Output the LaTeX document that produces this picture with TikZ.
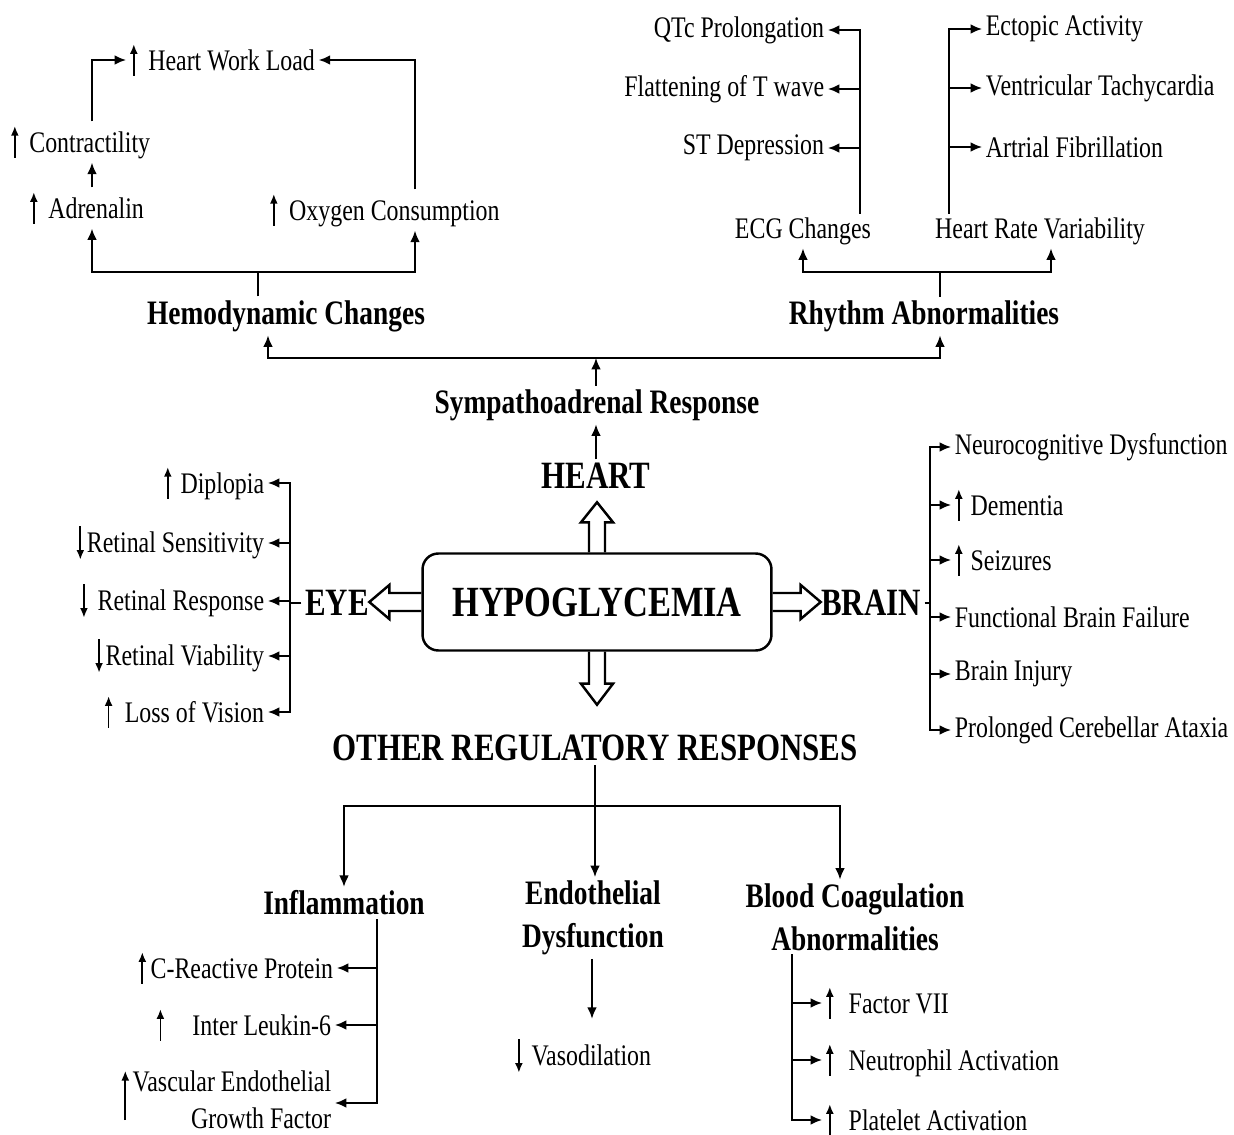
\documentclass[tikz,border=0pt]{standalone}
\usepackage{fontspec}
\setmainfont{Liberation Serif}[FakeStretch=0.8]
\usepackage{tikz}
\usetikzlibrary{arrows.meta}

\newcommand{\incr}{\tikz[baseline=0pt]\draw[line width=1pt, -{Latex[length=5.5pt, width=4.5pt]}] (0,-3pt) -- (0,15pt);}
\newcommand{\decr}{\tikz[baseline=0pt]\draw[line width=1pt, -{Latex[length=5.5pt, width=4.5pt]}] (0,15pt) -- (0,-4pt);}
\newcommand{\incrtall}{\tikz[baseline=0pt]\draw[line width=1pt, -{Latex[length=5.5pt, width=4.5pt]}] (0,-16pt) -- (0,12pt);}

\begin{document}
\begin{tikzpicture}[x=0.02cm, y=-0.02cm, >={Latex[length=6.5pt, width=5.5pt]},
    txt/.style={font=\fontsize{17}{21}\selectfont, inner sep=2pt},
    head/.style={font=\bfseries\fontsize{19.5}{24.5}\selectfont, inner sep=2pt, align=center},
    organ/.style={font=\bfseries\fontsize{22}{26}\selectfont, inner sep=2pt},
    mainbox/.style={draw, line width=1.4pt, rounded corners=9pt, minimum width=6.98cm,
        minimum height=1.94cm, font=\bfseries\fontsize{24.5}{28}\selectfont},
    wire/.style={line width=1pt},
    link/.style={wire, ->},
    hollow/.style={line width=1.4pt, line join=miter}]

    \useasboundingbox (0,0) rectangle (1234,1135);

    % Centre and organs
    \node[mainbox] (hypo) at (597,602) {HYPOGLYCEMIA};
    \node[organ] (heart) at (596,476) {HEART};
    \node[organ] (eye) at (337,603) {EYE};
    \node[organ] (brain) at (871,603) {BRAIN};
    \node[organ] (other) at (595,748) {OTHER REGULATORY RESPONSES};

    % Hollow arrows out of the box
    \draw[hollow] (hypo.north) ++(-8,0) -- ++(0,-30) -- ++(-8,0) -- ++(16,-20) -- ++(16,20) -- ++(-8,0) -- ++(0,30);
    \draw[hollow] (hypo.south) ++(-8,0) -- ++(0,32) -- ++(-8,0) -- ++(16,21) -- ++(16,-21) -- ++(-8,0) -- ++(0,-32);
    \draw[hollow] (hypo.west) ++(0,-9) -- ++(-32,0) -- ++(0,-8) -- ++(-20,17) -- ++(20,17) -- ++(0,-8) -- ++(32,0);
    \draw[hollow] (hypo.east) ++(0,-9) -- ++(28,0) -- ++(0,-8) -- ++(20,17) -- ++(-20,17) -- ++(0,-8) -- ++(-28,0);

    % Heart branch
    \node[head] (sym) at (597,405) {Sympathoadrenal Response};
    \node[head] (hemo) at (286,316) {Hemodynamic Changes};
    \node[head] (rhy) at (924,316) {Rhythm Abnormalities};
    \coordinate (sb) at (596,358);
    \coordinate (hl) at (268,0);
    \coordinate (rl) at (940,0);
    \draw[link] (heart.north) -- (heart.north |- sym.south);
    \draw[link] (sym.north -| sb) -- (sb);
    \draw[link] (sb) -| (hemo.south -| hl);
    \draw[link] (sb) -| (rhy.south -| rl);

    % Hemodynamic changes
    \node[txt, anchor=west] (hwl) at (126,60) {\incr\hspace{6pt}Heart Work Load};
    \node[txt, anchor=west] (con) at (7,142) {\incr\hspace{6pt}Contractility};
    \node[txt, anchor=west] (adr) at (26,208) {\incr\hspace{6pt}Adrenalin};
    \node[txt, anchor=west] (oxy) at (266,210) {\incr\hspace{6.5pt}Oxygen Consumption};
    \coordinate (ax) at (92,0);
    \coordinate (ox) at (415,0);
    \coordinate (hb) at (258,272);
    \draw[wire] (hemo.north -| hb) -- (hb);
    \draw[link] (hb) -| (adr.south -| ax);
    \draw[link] (hb) -| (oxy.south -| ox);
    \draw[link] (adr.north -| ax) -- (con.south -| ax);
    \draw[link] (con.north -| ax) |- (hwl.west);
    \draw[link] (oxy.north -| ox) |- (hwl.east);

    % Rhythm abnormalities
    \node[txt, anchor=east] (qtc) at (828,30) {QTc Prolongation};
    \node[txt, anchor=east] (flat) at (828,89) {Flattening of T wave};
    \node[txt, anchor=east] (std) at (828,148) {ST Depression};
    \node[txt, anchor=west] (ect) at (982,29) {Ectopic Activity};
    \node[txt, anchor=west] (vtc) at (982,88) {Ventricular Tachycardia};
    \node[txt, anchor=west] (afb) at (982,147) {Artrial Fibrillation};
    \node[txt] (ecg) at (803,231) {ECG Changes};
    \node[txt] (hrv) at (1040,231) {Heart Rate Variability};
    \coordinate (ex) at (860,0);
    \coordinate (vx) at (949,0);
    \coordinate (hr) at (1051,0);
    \coordinate (rb) at (940,272);
    \draw[wire] (rhy.north -| rb) -- (rb);
    \draw[link] (rb) -| (ecg.south);
    \draw[link] (rb) -| (hrv.south -| hr);
    \draw[link] (ecg.north -| ex) |- (qtc.east);
    \draw[link] (ex |- flat.east) -- (flat.east);
    \draw[link] (ex |- std.east) -- (std.east);
    \draw[link] (hrv.north -| vx) |- (ect.west);
    \draw[link] (vx |- vtc.west) -- (vtc.west);
    \draw[link] (vx |- afb.west) -- (afb.west);

    % Eye
    \node[txt, anchor=east] (dip) at (268,483) {\incr\hspace{5pt}Diplopia};
    \node[txt, anchor=east] (rsen) at (268,543) {\decr\hspace{1.5pt}Retinal Sensitivity};
    \node[txt, anchor=east] (rres) at (268,601) {\decr\hspace{5.5pt}Retinal Response};
    \node[txt, anchor=east] (rvia) at (268,656) {\decr\hspace{1.5pt}Retinal Viability};
    \node[txt, anchor=east] (lvis) at (268,712) {\incr\hspace{7pt}Loss of Vision};
    \coordinate (ey) at (290,0);
    \draw[wire] (eye.west) -- (eye.west -| ey);
    \draw[link] (ey |- rres.east) |- (dip.east);
    \draw[link] (ey |- rres.east) |- (lvis.east);
    \draw[link] (ey |- rsen.east) -- (rsen.east);
    \draw[link] (ey |- rres.east) -- (rres.east);
    \draw[link] (ey |- rvia.east) -- (rvia.east);

    % Brain
    \node[txt, anchor=west] (ndys) at (951,447) {Neurocognitive Dysfunction};
    \node[txt, anchor=west] (dem) at (951,505) {\incr\hspace{4.5pt}Dementia};
    \node[txt, anchor=west] (seiz) at (951,560) {\incr\hspace{4.5pt}Seizures};
    \node[txt, anchor=west] (fbf) at (951,617) {Functional Brain Failure};
    \node[txt, anchor=west] (binj) at (951,674) {Brain Injury};
    \node[txt, anchor=west] (pca) at (951,730) {Prolonged Cerebellar Ataxia};
    \coordinate (bx) at (930,0);
    \draw[wire] (brain.east) -- (brain.east -| bx);
    \draw[link] (bx |- fbf.west) |- (ndys.west);
    \draw[link] (bx |- fbf.west) |- (pca.west);
    \draw[link] (bx |- dem.west) -- (dem.west);
    \draw[link] (bx |- seiz.west) -- (seiz.west);
    \draw[link] (bx |- fbf.west) -- (fbf.west);
    \draw[link] (bx |- binj.west) -- (binj.west);

    % Other regulatory responses
    \node[head] (infl) at (344,903) {Inflammation};
    \node[head] (endo) at (593,918) {Endothelial\\Dysfunction};
    \node[head] (blood) at (855,917) {Blood Coagulation\\Abnormalities};
    \coordinate (ob) at (595,806);
    \coordinate (bl) at (840,0);
    \draw[link] (other.south) -- (other.south |- endo.north);
    \draw[link] (ob) -| (infl.north);
    \draw[link] (ob) -| (blood.north -| bl);

    % Inflammation
    \node[txt, anchor=east] (crp) at (337,968) {\incr\hspace{2.5pt}C-Reactive Protein};
    \node[txt, anchor=east] (il6) at (335,1025) {\incr\hspace{16pt}Inter Leukin-6};
    \node[txt, anchor=east] (vegf) at (335,1103) {\incrtall\hspace{2pt}\begin{tabular}[t]{@{}r@{}}Vascular Endothelial\\Growth Factor\end{tabular}};
    \coordinate (ix) at (377,0);
    \draw[link] (infl.south -| ix) |- (vegf.east);
    \draw[link] (ix |- crp.east) -- (crp.east);
    \draw[link] (ix |- il6.east) -- (il6.east);

    % Endothelial dysfunction
    \node[txt] (vaso) at (583,1056) {\decr\hspace{5pt}Vasodilation};
    \coordinate (dx) at (592,0);
    \draw[link, shorten >=9pt] (endo.south -| dx) -- (vaso.north -| dx);

    % Blood coagulation
    \node[txt, anchor=west] (f7) at (822,1003) {\incr\hspace{8.5pt}Factor VII};
    \node[txt, anchor=west] (neut) at (822,1060) {\incr\hspace{8.5pt}Neutrophil Activation};
    \node[txt, anchor=west] (plat) at (822,1120) {\incr\hspace{8.5pt}Platelet Activation};
    \coordinate (bc) at (792,0);
    \draw[link] (blood.south -| bc) |- (plat.west);
    \draw[link] (bc |- f7.west) -- (f7.west);
    \draw[link] (bc |- neut.west) -- (neut.west);
\end{tikzpicture}
\end{document}
